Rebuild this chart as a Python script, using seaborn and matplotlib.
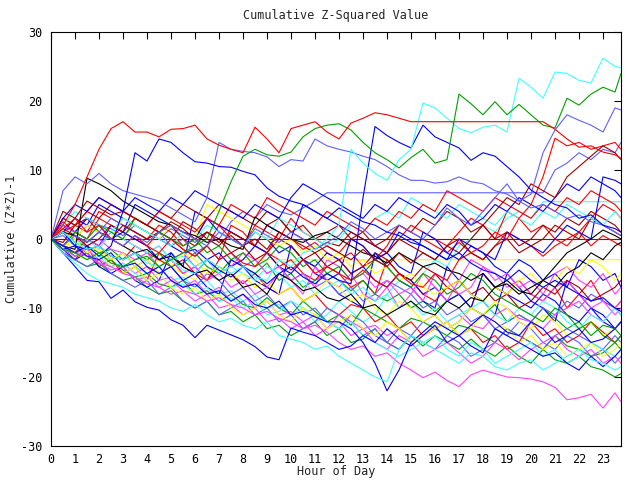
import matplotlib
matplotlib.use("Agg")
import matplotlib.pyplot as plt
import numpy as np
import pandas as pd
import seaborn as sns

# x grid: half-hour samples, last sample at the right edge
HOURS = [i * 0.5 for i in range(48)] + [23.75]

Y_TICKS = [-30, -20, -10, 0, 10, 20, 30]
X_TICKS = list(range(24))
TITLE = "Cumulative Z-Squared Value"
XLABEL = "Hour of Day"
YLABEL = "Cumulative (Z*Z)-1"

# ---- series values ----
dark_red_zero = [0] * 49
yellow_flat = [0, -1, -0.5, -2, -1.5, -3, -2, -3.5,
               -4.5, -3, -4, -5, -6, -4, -5, -3] + [-3] * 33
cyan_flat = [0, -1, -2, -1, -2.5, -3, -2, -4,
             -5, -4, -6, -5.5, -7, -6, -8, -7.5,
             -9, -8, -10, -9.5, -11, -10, -12, -11,
             -9, -10.5, -12, -11, -8, -6, -7, -5,
             -3, -4, -1, 0, 2, 1, 3, 4,
             3, 5.4, 5.4, 5.4, 5.4, 5.4, 5.4, 5.4, 5.4]
lightblue_flat = [0, 2, 1, 3, 2, 1.5, 0.5, 2,
                  1, 0, 1.5, 0.5, -0.5, 1, 0, 2.5,
                  4, 3, 5, 4, 3.5, 4.5, 5.5, 6.7] + [6.7] * 18 + [10, 11, 12.5, 11.5, 13, 12.5, 14]
f1_red = [0, 2.5, 1, 0, 3, 2, 1, 0, -1, 1, 0, -1.5, -2.5, -1, 2, 1,
          0, -1, -2, 1, 0, -1.5, -0.5, -2, -3, -2, -4, -3, -1, 2, 1, 0,
          -1, -2, -0.5, -2, -3, -1, 1, 0, -1, -2.5, -1, 0, 1, -1, 0.5, -0.5, -1]
f2_red = [0, -1, -2, 0, -1, -2.5, -3, -1, -2, -3, -4, -3, -5, -6, -4, -5,
          -6.5, -5, -7, -8, -7, -9, -8, -10, -11, -9.5, -10, -12, -11, -13, -12, -14,
          -13, -12, -14, -13, -15, -14, -16, -15, -12, -14, -13, -15, -14, -12, -13.5, -15, -14]
f3_red = [0, 3, 2, 1, 4, 3, 2, 1, 0, 2, 1, -1, 0, 3, 2, 0,
          -1, 2, 1, 0, 3, 1, 0, -1, -2, 0, -1, -3, -2, 0, 2, 1,
          0, -1, 1, 3, 2, 0, 4, 3, 1, 2, 0, -1, 1, 3, 5, 4, 3]
f4_red = [0, -2, -3, -1, -4, -3, -5, -4, -6, -2, -3, -5, -4, -6, -3, 2,
          1, -1, -2, -4, -3, -5, -6, -4, -5, -7, -6, -8, -3, -5, -6, -8,
          -9, -7, -8, -10, -5, -7, -8, -6, -8, -9, -7, -10, -8, -6, -9, -10, -9]
f5_green = [0, -2, -3, -4, -3.5, -5, -6, -5.5, -7, -8, -7.5, -9, -10, -9, -11, -10.5,
            -12, -11, -13, -12.5, -14, -13, -12, -14, -13, -15, -14.5, -13, -15, -16, -14, -15.5,
            -14, -15, -16, -14.5, -16, -17, -15.5, -17, -18, -16, -17.5, -18, -17, -18.5, -19, -20, -19.5]
f6_green = [0, -1, -2.5, -2, -4, -3, -4.5, -5.5, -5, -6.5, -7, -6, -8, -7.5, -9, -8,
            -9.5, -10, -8.5, -10, -11, -9, -10.5, -12, -11, -12.5, -10, -11, -12, -13, -11.5, -12,
            -13, -14, -12.5, -13, -14, -15, -13, -14, -15, -16, -14, -15.5, -16, -17, -16.5, -15, -16]
f7_green = [0, 1, -0.5, -1, -2, -1.5, -3, -2, -3, -2, -4, -3.5, -2, -4, -5, -3,
            -4, -5, -3.5, -6, -5, -7, -6, -5, -6, -7.5, -6, -8, -9, -8, -10, -9,
            -10.5, -9, -8, -10, -11, -9.5, -12, -11, -12, -10, -11.5, -13, -12, -14, -12.5, -13, -14]
f8_blue = [0, 2, 1, 3, 2, 0, 1, 5, 4, 3, 2, 1, 0, 3, 2, 1,
           0, -1, 2, 1, 0, 5, 4, 3, 2, 1, 0, -1, -2, 1, 0, -1,
           -2, -3, 0, -1, -2, -3, 1, 0, -1, -2, 0, 2, 1, 0, 9, 8.5, 8]
f9_blue = [0, -1.5, -3, -2, -4, -5, -4, -6, -7, -6, -2, -4, -5, -7, -8, -3,
           -4, -6, -7, -8, -1, -3, -5, -6, -8, -9, -10, -2, -4, -6, -7, -9,
           -10, -4, -6, -8, -9, -11, -5, -7, -9, -10, -12, -6, -8, -10, -12, -13, -12]
f10_blue = [0, 1, 3, 2, 5, 4, 3, 2, 1, 0, -1, -2, -1.5, -3, -2, -4,
            -3, -1, -2, -4, -5, -3, -4, -6, -5, 0, -1, -3, -2, -4, -5, 1,
            0, -2, -3, -1, -2, -4, -5, -3, -4, -6, -5, -7, -3, -4, -6, -5, -7]
f11_blue = [0, -1, 1, 0, -1, 2, 1, 0, -1, -3, -2, -4, 4, 3, 1, 0,
            -1, 1, 0, -2, -1, -3, -4, -2, -3, -5, -4, -6, -7, -5, -6, -8,
            -7, -9, -8, -10, -5, -7, -8, -9, -10, -8, -9, -11, -12, -10, -11, -13, -12]
f12_lightblue = [0, -2, -3, -4, -3, -5, -6, -7, -6, -8, -7, -9, -10, -9, -11, -10,
                 -9, -11, -10, -12, -11, -13, -12, -10, -11, -12, -14, -13, -15, -16, -14, -15,
                 -16, -14, -15, -17, -16, -15, -13, -14, -15, -16, -14, -13, -14, -15, -16, -14, -15]
f13_lightblue = [0, 1, 0, 2, 1, 3, 2, 1, 0, 1, -1, 0, -2, -1, -3, -2,
                 -4, -3, -5, -4, -6, -5, -7, -6, -8, -7, -9, -8, -6, -7, -8, -10,
                 -9, -11, -10, -12, -11, -13, -12, -11, -12, -10, -11, -9, -10, -8, -9, -10, -11]
f14_lightblue = [0, 0.5, -1, -2, -1, -3, -2, -4, -3, -5, -4, -6, -7, -5, -6, -8,
                 -7, -9, -8, -10, -9, -11, -10, -12, -13, -11, -12, -14, -15, -13, -14, -12,
                 -11, -13, -12, -10, -11, -13, -14, -12, -13, -15, -16, -14, -15, -17, -16, -18, -17]
f15_magenta = [0, -1, -2, -1.5, -3, -4, -3.5, -5, -4, -6, -5.5, -7, -6, -8, -7, -9,
               -8, -10, -9, -11, -10.5, -12, -11, -13, -12, -14, -13, -15, -16, -14, -15, -17,
               -16, -15, -16.5, -18, -17, -15, -16, -17.5, -16, -15, -14, -16, -17, -16, -18, -17, -18]
f16_magenta = [0, 1, 0, -1, 0, -1.5, -2, -3, -2, -4, -3, -5, -4, -6, -5, -7,
               -6, -8, -7, -5, -6, -8, -4, -6, -7, -5, -8, -9, -7, -10, -8, -5,
               -7, -9, -6, -3, -4, -6, -5, -7, -6, -8, -5, -4, -6, -7, -5, -8, -7]
f17_magenta = [0, -1.5, -2.5, -2, -3.5, -4.5, -4, -6, -5.5, -7, -8, -7.5, -9, -8, -10, -9.5,
               -11, -10, -12, -11.5, -13, -12, -14, -13, -11, -12, -13, -12.5, -14, -13, -15, -14,
               -13, -12, -11, -12.5, -13, -11, -10, -11.5, -12, -13, -11, -10, -9, -11, -12, -10, -9]
f18_magenta = [0, 2, 1, 0, -1, 1, 0, -1, -2, -1, -3, -2, -4, -3, -5, -4,
               -2, -3, -5, -4, -6, -5, -7, -3, -4, -6, -5, -7, -6, -8, -7, -9,
               -5, -6, -8, -7, -4, -5, -7, -6, -8, -9, -7, -6, -8, -10, -9, -11, -10]
f19_cyan = [0, -1, -2, -3, -2.5, -4, -3.5, -5, -6, -5, -7, -6.5, -8, -7, -9, -8.5,
            -10, -9, -11, -10.5, -9, -10, -11, -12, -13, -12, -14, -15, -16, -17, -16, -15,
            -14, -16, -17, -15, -16, -18, -17, -16, -15, -17, -16, -18, -17, -15, -16, -17, -16]
f20_cyan = [0, 1, -1, 0, -1.5, 1, 0, -1, -2, -1, -3, -2.5, -4, -3, -5, -4,
            -5, -6, -4, -5, -7, -6, -8, -7, -6, -8, -7, -9, -8, -10, -9, -11,
            -10, -12, -11, -10, -9, -11, -12, -10, -11, -9, -10, -12, -13, -11, -12, -10, -11]
f21_darkred = [0, 1.5, 0.5, -1, 0, 2, 1, 3, 2, 1, 0, 2.5, 1.5, 0, -1, 1,
               0, -1, 2, 3, 1, 0, -1.5, -0.5, -1, 1, 0, -1, -2, 0, -1, -2,
               -3, -1, 0, -2, -3, -1, 0, -2, -1, 0, 2, 1, 0, 3, 2, 1, 0.5]
f22_darkred = [0, -0.5, 2, 3, 1, 0, 2, 1, 0, 1, 2, 0, -1, 1, 0, -2,
               -1, -3, -2, 0, -1, -3, -2, -4, -3, -5, -4, -2, -3, -5, -6, -4,
               -5, -7, -6, -8, -7, -9, -8, -10, -9, -7, -8, -6, -7, -9, -8, -7, -6]
f23_darkred = [0, 3, 2, 4, 3, 5, 4, 3, 2, 4, 3, 5, 4, 3, 5, 4,
               3, 2, 4, 3, 1, 2, 0, 1, 2, 0, 1, -1, 0, 2, 1, 3,
               2, 4, 3, 1, 2, 0, 1, -1, 0, 2, 1, 3, 2, 4, 3, 2, 1]
f24_yellow = [0, -1, 0, -2, -1, -3, -2, -4, -3, -5, -4, -2, -3, -5, -4, -6,
              -5, -7, -6, -8, -7, -9, -8, -6, -7, -9, -8, -10, -11, -9, -10, -12,
              -11, -13, -12, -10, -11, -9, -10, -12, -13, -11, -12, -14, -13, -12, -14, -13, -12]
f25_yellow = [0, 1, 0, 2, 1, 0, 3, 2, 1, 0, 2, 1, 0, 5, 4, 3,
              2, 1, 0, -1, 0, -2, -1, -3, -2, -4, -3, -5, -4, -6, -5, -7,
              -8, -7, -6, -8, -9, -7, -8, -6, -5, -7, -6, -4, -5, -3, -4, -6, -5]
f26_yellow = [0, -1, -2, -3, -2, -4, -5, -4, -6, -5, -7, -8, -7, -9, -8, -10,
              -11, -10, -9, -11, -12, -10, -11, -13, -12, -11, -13, -14, -12, -13, -15, -14,
              -13, -12, -14, -13, -11, -12, -13, -15, -14, -16, -15, -17, -16, -15, -17, -16, -15]
f27_cyan = [0, 2, 4, 3, 2, 1, 3, 2, 1, 0, -1, 1, 0, 2, 1, 0,
            -1, 1, 0, 3, 2, 1, 0, -1, 0, 2, 1, 3, 4, 3, 6, 5,
            4, 3, 5, 4, 3, 2, 4, 3, 2, 4, 3, 5, 4, 3, 2, 4, 3]
f28_green = [0, -1, 1, 0, 2, 1, 0, 3, 2, 1, 0, -1, 0, -2, -1, -3,
             -2, -4, -3, -1, -2, -4, -3, -5, -4, -6, -5, -3, -4, -6, -7, -5,
             -6, -8, -7, -5, -6, -8, -9, -10, -11, -12, -10, -11, -13, -12, -14, -15, -14]
f29_red = [0, 1, 2, 4, 6, 5, 4, 3, 2, 4, 3, 2, 1, 3, 2, 5,
           4, 3, 6, 5, 4, 3, 2, 4, 3, 2, 1, 3, 2, 4, 3, 5,
           4, 7, 6, 5, 4, 6, 5, 4, 3, 5, 4, 6, 5, 7, 6, 5, 4]
f30_blue = [0, 3, 5, 4, 6, 5, 4, 6, 5, 4, 6, 5, 7, 6, 5, 4,
            3, 5, 4, 3, 6, 8, 7, 6, 5, 4, 3, 5, 4, 6, 5, 4,
            3, 5, 4, 2, 3, 5, 4, 6, 5, 4, 6, 8, 7, 9, 8, 7, 6]
black_a = [0, -1, -1.5, 8.8, 8, 7, 5.5, 4.5, 3.5, 2.5, 2, 1, 0.5, -0.5, 0, -1,
           -1.5, 3.2, 2, 1, 0, -0.5, 0.5, 1, 0, -1, -2, -2.5, -3.5, -2, -3, -4,
           -3.5, -4.5, -5, -6, -5, -7, -6.5, -8, -7, -6, -4, -2, -1, 0, 1.3, 0.5, 0]
black_b = [0, 1, 0.5, -0.5, 1, 0, -1, -2, -1.5, -3, -2.5, -4, -5, -4.5, -6, -5,
           -7, -6.5, -8, -5, -6, -7.5, -7, -8.5, -9, -8, -10, -9.5, -11, -10, -9, -10.5,
           -11, -9, -10, -8.5, -9, -7, -6, -7.5, -8, -6, -7, -5, -4, -2, -3, -1, -0.5]
magenta_bottom = [0, -1, -2, -2.5, -3.5, -4, -5, -5.5, -6.5, -7, -6, -7.5, -8, -9, -8.5, -9.5,
                  -10, -11, -10.5, -11.5, -12, -13, -12.5, -13.5, -15, -16, -15.5, -17, -16.5, -18, -19, -20.1,
                  -19.3, -20.5, -21.4, -19.7, -19, -19.5, -20, -20.1, -20.3, -20.7, -21.5, -23.3, -23, -22.5, -24.5, -22.3, -23.6]
blue_bottom = [0, -2, -4, -6, -6.2, -8.6, -7.4, -9.1, -9.9, -10.3, -11.7, -12.5, -14.3, -12.5, -13.2, -13.9,
               -14.6, -15.6, -17.1, -17.5, -12.9, -13.5, -14, -15, -16, -15.5, -14, -15, -13, -14.5, -15.5, -14,
               -12.5, -15, -14, -15.5, -16.5, -13, -14, -15, -16, -17, -16.5, -18, -19, -17, -18.5, -17, -16]
blue_deep = [0, -1.5, -1, -2.5, -3, -2, -4, -3.5, -5, -4, -6, -7, -6.5, -8, -7.5, -9,
             -8, -9.5, -10, -9, -11, -10.5, -11.3, -12, -12, -13, -15, -18, -22, -19, -15, -13.5,
             -12, -13, -14, -12.5, -11, -12, -13.5, -14, -12, -13, -15, -14, -13, -15, -14.5, -13, -12]
cyan_low = [0, -2, -3.5, -5, -6, -6.5, -7, -8, -8.5, -9, -10, -10.5, -9.5, -11, -12, -11.5,
            -12.5, -13, -12, -14, -14.5, -15, -16, -15.5, -17, -18, -19, -20, -20.7, -16, -14, -15,
            -16, -17, -18, -16.5, -17, -18.5, -19, -18, -17.5, -19, -18, -17, -16, -17.5, -18, -19, -18.5]
red_ending_high = [0, 1.5, 3, 1, 2, 0, -1, 0.5, -1, -2, 0, -1.5, -2.5, -1, -3, -2,
                   -3.5, -4, -2, -3, -4.5, -3, -5, -4, -5, -6, -4.5, -6, -7, -5, -6.5, -7,
                   -5, -6, -3, -2, -1, 1, 0, 3, 5, 9, 14.6, 13.5, 14, 13, 13.5, 14, 13]
darkred_ending_high = [0, 4, 3, 5.5, 4.5, 3.5, 4, 3, 2, 1, 2.5, 1.5, 0, 1, -0.5, 0.5,
                       -1, 0, -1.5, 1, 0, -1, -2, -1, -2, -3, -1.5, -3, -4, -2, -3.5, -2,
                       -3, -1, -2, 0, 2, 4, 6, 5, 8, 7, 6, 9, 10.5, 12, 13.5, 12.5, 11.5]
lightblue_rising = [0, -1, 0.5, -0.5, 1, 0, -1, 0.5, -0.5, 1, 2, 1, 0, -1, 1, 0,
                    -1, 1.5, 0.5, -0.5, 1, 0, -1.5, -0.5, 0.5, 2.5, 1.5, 0, 1, 2, 1, 0,
                    2, 4.5, 3, 2, 4, 6, 8, 5.5, 6.5, 12.5, 15.8, 18, 17.2, 16.5, 15.5, 19, 18.7]
lightblue_upper = [0, 7, 9, 8, 9.5, 8, 7, 6.5, 6, 5.5, 4.5, 3.5, 2.5, 6, 14, 13,
                   12.7, 12.5, 11.9, 10.5, 11.5, 11.3, 14.5, 13.5, 13, 12.6, 12, 11.5, 10.5, 9.3, 8.5, 8.5,
                   8.1, 8.3, 9, 8.3, 8, 7, 6.5, 5.5, 4.5, 5, 4, 3, 3.5, 2.5, 2, 1, 0.5]
blue_jump13 = [0, 1, -1, -1.5, -1, -2.5, -3, -2, -4, -5, -4, -6, -5, -3, -4.5, -5.5,
               -4, -5, -6.5, -5, -4, -5.5, -6.5, -5, -6, -6.5, 6, 16.3, 15, 14, 13.2, 16.5,
               14.8, 14, 13.2, 11.4, 12.5, 12, 10.5, 9, 7.1, 6, 5, 4.5, 3, 3.5, 2, 1.5, 1]
blue_high_early = [0, -1, -2, -1, -2.5, -1, 4, 12.5, 11.3, 14.5, 14, 12.5, 11.2, 11, 10.5, 10.4,
                   9.8, 9.3, 7.4, 6.2, 5.5, 5, 4, 3, 4.5, 3.5, 2.5, 2, 1, 0.5, -0.5, -1,
                   -2, -3, -2, -3.5, -4.5, -5, -6, -4.5, -6, -7, -6, -7, -8, -9, -8.5, -10, -10.5]
cyan_top = [0, 1, -0.5, -1.5, -1, -2.5, -3, -2, -3.5, -4, -3, -4.5, -5, -3, -4, -5,
            -4, -5.5, -6, -3, -4, -2, -1.5, 0, 2, 13, 11, 9.5, 8.5, 11.5, 13, 19.7,
            19, 17.5, 16, 15.4, 16.2, 16.5, 15.5, 23.3, 22, 20.4, 24.2, 24, 23, 22.6, 26.2, 25, 24.8]
green_top = [0, -1.5, -2, -3, -2, -3.5, -4, -3, -2.5, -4, -3, -2, -1, 0, 4, 8.3,
             12, 13, 12.2, 12, 12.6, 14.8, 16, 16.5, 16.7, 15.8, 14, 12.5, 11.5, 10.3, 11.8, 13,
             11, 11.5, 21, 19.6, 18, 19.9, 18, 19.5, 18, 16.5, 16.1, 20.4, 19.4, 21, 22, 21.3, 24]
red_top = [0, 2, 5, 9, 13, 16, 17, 15.5, 15.5, 14.8, 15.9, 16, 16.5, 14.5, 13.6, 13,
           12.5, 16.2, 14.5, 12.5, 16, 16.5, 17, 15.5, 14.5, 16.8, 17.5, 18.3, 18, 17.5, 17, 17,
           17, 17, 17, 17, 17, 17, 17, 17, 17, 17, 15.9, 14.5, 13.3, 13.5, 12.6, 12.2, 11.7]

# ---- colours (gnuplot-like) ----
RED, GREEN, BLUE, MAGENTA = "#ff0000", "#00a000", "#0000ff", "#ff40ff"
CYAN, DARKRED, YELLOW, BLACK, LBLUE = "#40ffff", "#a00000", "#ffff00", "#000000", "#6060ff"

series = [
    ("dark_red_zero", dark_red_zero, DARKRED),
    ("yellow_flat", yellow_flat, YELLOW),
    ("cyan_flat", cyan_flat, CYAN),
    ("lightblue_flat", lightblue_flat, LBLUE),
    ("f1_red", f1_red, RED), ("f2_red", f2_red, RED), ("f3_red", f3_red, RED),
    ("f4_red", f4_red, RED), ("f5_green", f5_green, GREEN), ("f6_green", f6_green, GREEN),
    ("f7_green", f7_green, GREEN), ("f8_blue", f8_blue, BLUE), ("f9_blue", f9_blue, BLUE),
    ("f10_blue", f10_blue, BLUE), ("f11_blue", f11_blue, BLUE),
    ("f12_lightblue", f12_lightblue, LBLUE), ("f13_lightblue", f13_lightblue, LBLUE),
    ("f14_lightblue", f14_lightblue, LBLUE), ("f15_magenta", f15_magenta, MAGENTA),
    ("f16_magenta", f16_magenta, MAGENTA), ("f17_magenta", f17_magenta, MAGENTA),
    ("f18_magenta", f18_magenta, MAGENTA), ("f19_cyan", f19_cyan, CYAN),
    ("f20_cyan", f20_cyan, CYAN), ("f21_darkred", f21_darkred, DARKRED),
    ("f22_darkred", f22_darkred, DARKRED), ("f23_darkred", f23_darkred, DARKRED),
    ("f24_yellow", f24_yellow, YELLOW), ("f25_yellow", f25_yellow, YELLOW),
    ("f26_yellow", f26_yellow, YELLOW), ("f27_cyan", f27_cyan, CYAN),
    ("f28_green", f28_green, GREEN), ("f29_red", f29_red, RED), ("f30_blue", f30_blue, BLUE),
    ("black_a", black_a, BLACK), ("black_b", black_b, BLACK),
    ("magenta_bottom", magenta_bottom, MAGENTA), ("blue_bottom", blue_bottom, BLUE),
    ("blue_deep", blue_deep, BLUE), ("cyan_low", cyan_low, CYAN),
    ("red_ending_high", red_ending_high, RED),
    ("darkred_ending_high", darkred_ending_high, DARKRED),
    ("lightblue_rising", lightblue_rising, LBLUE), ("lightblue_upper", lightblue_upper, LBLUE),
    ("blue_jump13", blue_jump13, BLUE), ("blue_high_early", blue_high_early, BLUE),
    ("cyan_top", cyan_top, CYAN), ("green_top", green_top, GREEN), ("red_top", red_top, RED),
]

rows = []
for name, vals, _ in series:
    for h, v in zip(HOURS, vals):
        rows.append((name, h, v))
df = pd.DataFrame(rows, columns=["series", "hour", "value"])
palette = {name: col for name, _, col in series}
order = [name for name, _, _ in series]

sns.set_style("white")
plt.rcParams["font.family"] = ["DejaVu Sans Mono", "DejaVu Sans"]

fig = plt.figure(figsize=(6.4, 4.8), dpi=100)
ax = fig.add_axes([51 / 640, 34 / 480, 570 / 640, 414 / 480])

sns.lineplot(data=df, x="hour", y="value", hue="series", hue_order=order,
             palette=palette, legend=False, estimator=None, sort=False,
             linewidth=0.8, antialiased=True, ax=ax)

ax.set_xlim(0, 23.75)
ax.set_ylim(-30, 30)
ax.set_xticks(X_TICKS)
ax.set_xticklabels([str(t) for t in X_TICKS])
ax.set_yticks(Y_TICKS)
ax.set_yticklabels([str(t) for t in Y_TICKS])
ax.tick_params(direction="in", top=True, right=True, length=5, width=0.8,
               labelsize=8.5, colors="black")
ax.tick_params(axis="y", pad=6)
ax.tick_params(axis="x", pad=5)
for sp in ax.spines.values():
    sp.set_color("black")
    sp.set_linewidth(0.8)

ax.set_xlabel(XLABEL, fontsize=8.5)
ax.set_ylabel(YLABEL, fontsize=8.5)
ax.xaxis.set_label_coords(0.5, (446 - 472) / 414)
ax.yaxis.set_label_coords((12 - 51) / 570, 0.5)
ax.xaxis.label.set_va("center")
ax.yaxis.label.set_va("center")
ax.set_title(TITLE, fontsize=8.5, y=(446 - 16) / 414, va="center", pad=0)

fig.savefig("out.png", dpi=100, facecolor="white")
